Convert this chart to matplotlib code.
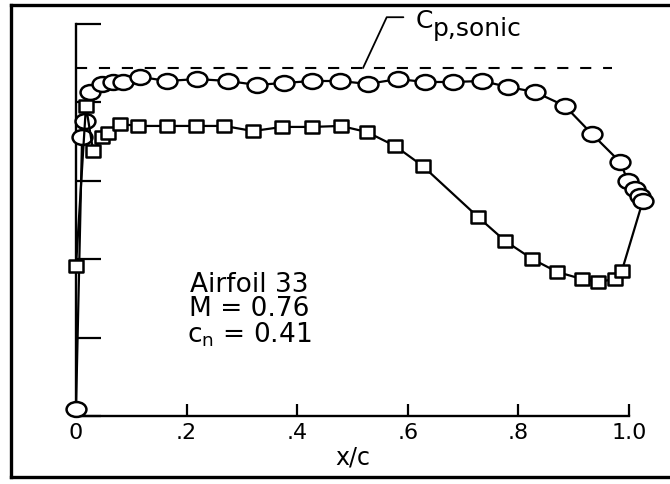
import numpy as np
import matplotlib.pyplot as plt
from matplotlib.path import Path
from matplotlib.lines import Line2D

plt.rcParams['font.family'] = ['DejaVu Sans']
plt.rcParams['lines.scale_dashes'] = False

# upper surface (circles), x/c and -Cp
x_upper = [0.0, 0.011, 0.016, 0.025, 0.047, 0.067, 0.085, 0.116, 0.165, 0.219,
           0.275, 0.327, 0.376, 0.427, 0.477, 0.528, 0.582, 0.631, 0.682, 0.734,
           0.781, 0.830, 0.884, 0.933, 0.984, 0.998, 1.011, 1.020, 1.025]
cp_upper = [-0.964, 0.422, 0.503, 0.651, 0.692, 0.702, 0.702, 0.728, 0.707, 0.717,
            0.707, 0.687, 0.697, 0.707, 0.707, 0.692, 0.717, 0.702, 0.702, 0.707,
            0.677, 0.651, 0.580, 0.437, 0.294, 0.198, 0.157, 0.121, 0.096]

# lower surface (squares)
x_lower = [0.0, 0.018, 0.031, 0.047, 0.058, 0.080, 0.112, 0.165, 0.217, 0.268,
           0.320, 0.373, 0.427, 0.479, 0.526, 0.577, 0.627, 0.727, 0.776, 0.825,
           0.870, 0.915, 0.944, 0.975, 0.987]
cp_lower = [-0.236, 0.580, 0.350, 0.422, 0.442, 0.488, 0.478, 0.478, 0.478, 0.478,
            0.452, 0.473, 0.473, 0.478, 0.447, 0.376, 0.274, 0.014, -0.108, -0.200,
            -0.266, -0.302, -0.317, -0.302, -0.261]

cp_sonic = 0.773
xticks = [0, 0.2, 0.4, 0.6, 0.8, 1.0]
xtick_labels = ['0', '.2', '.4', '.6', '.8', '1.0']
yticks = [-1.0, -0.6, -0.2, 0.2, 0.6, 1.0]

# flattened markers like the scanned figure
circ = Path.unit_circle()
ellipse = Path(circ.vertices * np.array([1.0, 0.75]), circ.codes)
rect = Path([(-0.5, -0.4), (0.5, -0.4), (0.5, 0.4), (-0.5, 0.4), (-0.5, -0.4)],
            [Path.MOVETO, Path.LINETO, Path.LINETO, Path.LINETO, Path.CLOSEPOLY])

fig = plt.figure(figsize=(6.7, 4.85), dpi=100)
ax = fig.add_axes([76 / 670, 68 / 485, 553 / 670, 392.5 / 485])

ax.plot([x_upper[-1], x_lower[-1]], [cp_upper[-1], cp_lower[-1]], color='black',
        lw=1.6, clip_on=False, zorder=2)
ax.plot(x_upper, cp_upper, color='black', lw=1.6, marker=ellipse, markersize=14.3,
        markerfacecolor='white', markeredgecolor='black', markeredgewidth=1.8,
        clip_on=False, zorder=3)
ax.plot(x_lower, cp_lower, color='black', lw=1.6, marker=rect, markersize=10.7,
        markerfacecolor='white', markeredgecolor='black', markeredgewidth=1.8,
        clip_on=False, zorder=3)

ax.axhline(cp_sonic, xmin=0, xmax=0.969, color='black', lw=1.5, dashes=(8, 8.5))

ax.set_xlim(0, 1.0)
ax.set_ylim(-1.0, 1.0)
ax.set_xticks(xticks)
ax.set_xticklabels(xtick_labels, fontsize=16)
ax.set_yticks(yticks)
ax.set_yticklabels([])
ax.tick_params(axis='x', direction='in', length=8.5, width=1.6, pad=4)
ax.tick_params(axis='y', direction='in', length=18, width=1.6)
for s in ['top', 'right']:
    ax.spines[s].set_visible(False)
for s in ['left', 'bottom']:
    ax.spines[s].set_linewidth(1.7)
ax.set_xlabel('x/c', fontsize=17, labelpad=2)

# case description
ax.text(0.314, 0.370, 'Airfoil 33\nM = 0.76\nc$_\\mathregular{n}$ = 0.41',
        fontsize=19, ha='center', va='top', multialignment='center',
        linespacing=0.92, transform=ax.transAxes)

# sonic label with leader
ax.annotate('', xy=(0.519, cp_sonic), xycoords=('axes fraction', 'data'),
            xytext=(0.592, 1.016), textcoords='axes fraction',
            arrowprops=dict(arrowstyle='-', lw=1.3, color='black',
                            shrinkA=0, shrinkB=0,
                            connectionstyle='angle,angleA=0,angleB=65,rad=0'))
ax.text(0.615, 0.991, 'C', fontsize=18, ha='left', va='baseline',
        transform=ax.transAxes)
ax.text(0.646, 0.971, 'p,sonic', fontsize=18, ha='left', va='baseline',
        transform=ax.transAxes)

# scanned page frame
fig.add_artist(Line2D([11 / 670, 11 / 670], [1 - 6 / 485, 1 - 478 / 485],
                      color='black', lw=2.4, transform=fig.transFigure))
fig.add_artist(Line2D([11 / 670, 1], [1 - 6 / 485, 1 - 6 / 485],
                      color='black', lw=2.4, transform=fig.transFigure))
fig.add_artist(Line2D([11 / 670, 1], [1 - 478 / 485, 1 - 478 / 485],
                      color='black', lw=2.4, transform=fig.transFigure))

fig.savefig('out.png', dpi=100)
